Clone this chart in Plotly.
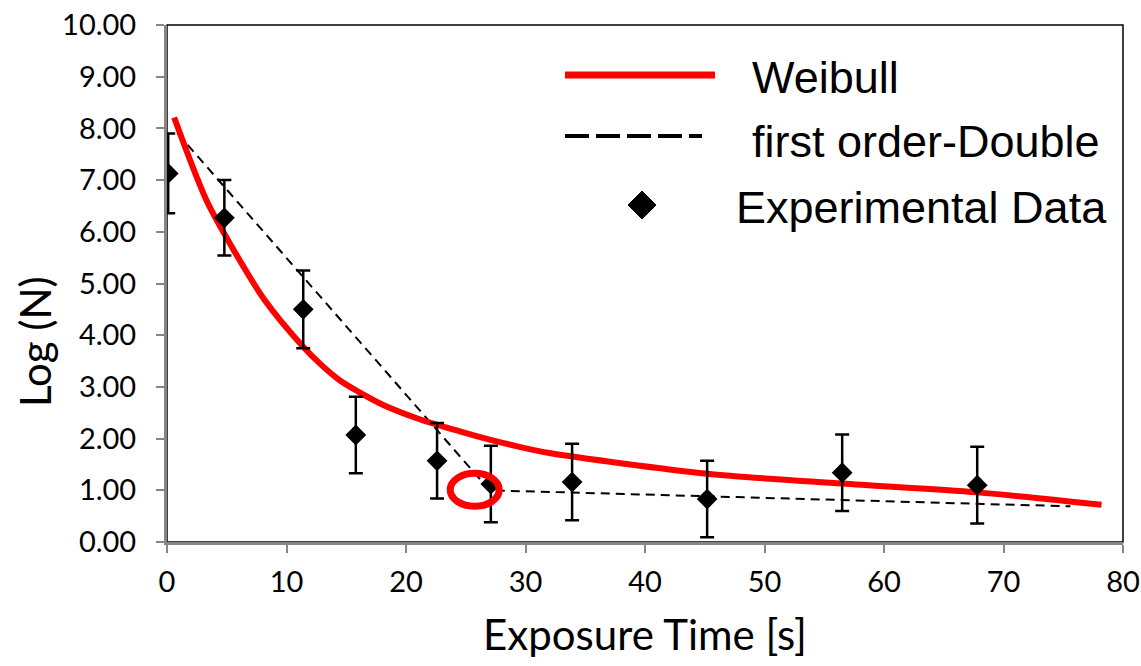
import plotly.graph_objects as go

# ---------------- data ----------------
exp_time = [0.1, 4.8, 11.4, 15.8, 22.6, 27.1, 33.9, 45.2, 56.5, 67.8]
exp_logn = [7.13, 6.27, 4.50, 2.07, 1.57, 1.12, 1.16, 0.83, 1.34, 1.10]
exp_err = [0.77, 0.73, 0.75, 0.74, 0.73, 0.74, 0.74, 0.74, 0.74, 0.74]

weibull_time = [0.6, 3.3, 5.6, 8.2, 11.3, 12.8, 14.5, 16.0, 18.1, 21.2, 24.5, 27.0, 29.5, 32.0, 45.2, 56.5, 67.8, 78.2]
weibull_logn = [8.21, 6.61, 5.64, 4.67, 3.80, 3.45, 3.12, 2.91, 2.65, 2.37, 2.14, 1.98, 1.84, 1.72, 1.32, 1.13, 0.96, 0.72]

double_time = [0.9, 27.0, 75.6]
double_logn = [7.90, 1.00, 0.69]

x_ticks = [0, 10, 20, 30, 40, 50, 60, 70, 80]
y_ticks = [0, 1, 2, 3, 4, 5, 6, 7, 8, 9, 10]

highlight_x = [23.7, 27.8]
highlight_y = [0.69, 1.33]

legend_names = ["Weibull", "first order-Double", "Experimental Data"]

# ---------------- figure ----------------
W, H = 1141, 666
L, R, T, B = 167, 18, 25, 124
PW, PH = W - L - R, H - T - B


def px(x):
    return (x - L) / PW


def py(y):
    return (H - B - y) / PH


fig = go.Figure()

fig.add_trace(go.Scatter(
    x=double_time, y=double_logn, mode="lines", name=legend_names[1],
    line=dict(color="black", width=2, dash="9px,6px"),
))
fig.add_trace(go.Scatter(
    x=weibull_time, y=weibull_logn, mode="lines", name=legend_names[0],
    line=dict(color="#ff0000", width=6, shape="spline", smoothing=0.8),
))
fig.add_trace(go.Scatter(
    x=exp_time, y=exp_logn, mode="markers", name=legend_names[2],
    marker=dict(symbol="diamond", size=16, color="black"),
    error_y=dict(type="data", array=exp_err, color="black", thickness=2.5, width=7),
))

tick_font = dict(family="Lato", size=29, color="black")
title_font = dict(family="Lato", size=42, color="black")
axis_grey = "#868686"

fig.update_xaxes(
    range=[0, 80], tickvals=x_ticks, ticks="outside", ticklen=8, tickwidth=2,
    tickcolor=axis_grey, showline=True, linecolor=axis_grey, linewidth=3,
    showgrid=False, zeroline=False, tickfont=tick_font, ticklabelstandoff=4,
    title=dict(text="Exposure Time [s]", font=title_font, standoff=24),
)
fig.update_yaxes(
    range=[0, 10], tickvals=y_ticks, tickformat=".2f", ticks="outside", ticklen=8,
    tickwidth=2, tickcolor=axis_grey, showline=True, linecolor=axis_grey, linewidth=3,
    showgrid=False, zeroline=False, tickfont=tick_font, ticklabelstandoff=14,
)

shapes = [
    # plot-area frame (top/right black border)
    dict(type="rect", xref="paper", yref="paper", x0=0, x1=1, y0=0, y1=1,
         line=dict(color="black", width=1.5), layer="below"),
    # red highlight ellipse
    dict(type="circle", xref="x", yref="y",
         x0=highlight_x[0], x1=highlight_x[1], y0=highlight_y[0], y1=highlight_y[1],
         line=dict(color="#ff0000", width=7), layer="above"),
    # legend samples
    dict(type="line", xref="paper", yref="paper", x0=px(565), x1=px(715), y0=py(75), y1=py(75),
         line=dict(color="#ff0000", width=7)),
    dict(type="line", xref="paper", yref="paper", x0=px(565), x1=px(702), y0=py(136), y1=py(136),
         line=dict(color="black", width=4, dash="24px,7px")),
    dict(type="path", xref="paper", yref="paper", xsizemode="pixel", ysizemode="pixel",
         xanchor=px(642), yanchor=py(205), path="M0,14 L14,0 L0,-14 L-14,0 Z",
         fillcolor="black", line=dict(color="black", width=1)),
]

legend_font = dict(family="Liberation Sans", size=45, color="black")
annotations = [
    dict(text="Log (N)", textangle=-90, xref="paper", yref="paper", x=px(35), y=py(342),
         showarrow=False, font=title_font, xanchor="center", yanchor="middle"),
    dict(text=legend_names[0], xref="paper", yref="paper", x=px(750), y=py(78),
         showarrow=False, font=legend_font, xanchor="left", yanchor="middle"),
    dict(text=legend_names[1], xref="paper", yref="paper", x=px(750), y=py(141),
         showarrow=False, font=legend_font, xanchor="left", yanchor="middle"),
    dict(text=legend_names[2], xref="paper", yref="paper", x=px(734), y=py(207),
         showarrow=False, font=legend_font, xanchor="left", yanchor="middle"),
]

fig.update_layout(
    width=W, height=H, margin=dict(l=L, r=R, t=T, b=B, autoexpand=False),
    plot_bgcolor="white", paper_bgcolor="white", showlegend=False,
    shapes=shapes, annotations=annotations,
)

fig.write_html("out.html")
